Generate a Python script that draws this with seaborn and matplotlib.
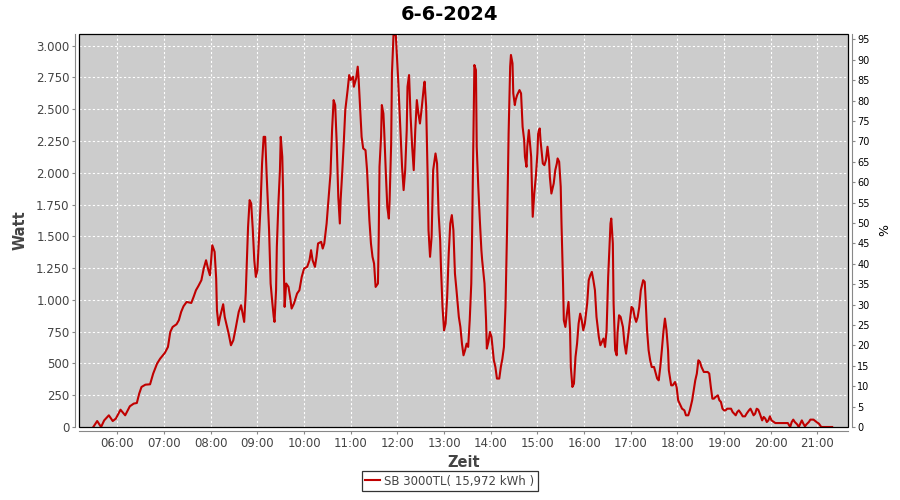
import pandas as pd
import matplotlib.pyplot as plt
import matplotlib.dates as mdates
import matplotlib.ticker as mticker
from matplotlib.patches import Rectangle
import seaborn as sns

zeit = [
    "05:29", "05:34", "05:39", "05:43", "05:49", "05:54", "05:58", "06:04", "06:10", "06:16",
    "06:21", "06:25", "06:28", "06:31", "06:36", "06:42", "06:46", "06:51", "06:55", "07:01",
    "07:05", "07:08", "07:11", "07:16", "07:19", "07:22", "07:25", "07:29", "07:35", "07:38",
    "07:41", "07:44", "07:48", "07:51", "07:54", "07:57", "07:59", "08:02", "08:05", "08:07",
    "08:08", "08:10", "08:12", "08:16", "08:18", "08:23", "08:26", "08:29", "08:32", "08:36",
    "08:39", "08:41", "08:43", "08:45", "08:48", "08:50", "08:52", "08:54", "08:56", "08:58",
    "09:00", "09:04", "09:06", "09:08", "09:10", "09:12", "09:15", "09:17", "09:19", "09:21",
    "09:22", "09:24", "09:25", "09:27", "09:29", "09:30", "09:32", "09:33", "09:34", "09:35",
    "09:37", "09:40", "09:42", "09:44", "09:47", "09:51", "09:54", "09:57", "10:00", "10:04",
    "10:07", "10:09", "10:11", "10:14", "10:16", "10:18", "10:22", "10:24", "10:26", "10:27",
    "10:29", "10:31", "10:34", "10:36", "10:38", "10:40", "10:42", "10:44", "10:46", "10:47",
    "10:49", "10:51", "10:53", "10:56", "10:58", "11:00", "11:03", "11:04", "11:07", "11:09",
    "11:10", "11:12", "11:14", "11:16", "11:19", "11:21", "11:23", "11:24", "11:26", "11:28",
    "11:30", "11:32", "11:35", "11:36", "11:37", "11:39", "11:40", "11:42", "11:43", "11:45",
    "11:47", "11:49", "11:50", "11:52", "11:53", "11:55", "11:58", "11:59", "12:01", "12:04",
    "12:06", "12:08", "12:10", "12:12", "12:13", "12:15", "12:17", "12:19", "12:21", "12:23",
    "12:25", "12:27", "12:29", "12:31", "12:34", "12:35", "12:37", "12:39", "12:40", "12:42",
    "12:44", "12:46", "12:49", "12:51", "12:53", "12:55", "12:56", "12:58", "13:00", "13:02",
    "13:04", "13:06", "13:08", "13:10", "13:12", "13:14", "13:16", "13:19", "13:21", "13:23",
    "13:25", "13:27", "13:29", "13:31", "13:33", "13:35", "13:36", "13:38", "13:39", "13:41",
    "13:42", "13:44", "13:46", "13:48", "13:49", "13:52", "13:54", "13:55", "13:57", "13:59",
    "14:01", "14:04", "14:06", "14:08", "14:11", "14:13", "14:15", "14:17", "14:19", "14:21",
    "14:23", "14:25", "14:26", "14:28", "14:29", "14:31", "14:32", "14:34", "14:37", "14:39",
    "14:41", "14:43", "14:44", "14:46", "14:47", "14:49", "14:52", "14:53", "14:54", "14:56",
    "14:58", "15:00", "15:01", "15:03", "15:04", "15:07", "15:09", "15:11", "15:13", "15:15",
    "15:16", "15:18", "15:21", "15:23", "15:25", "15:26", "15:28", "15:30", "15:31", "15:33",
    "15:34", "15:36", "15:38", "15:40", "15:42", "15:43", "15:45", "15:47", "15:49", "15:51",
    "15:53", "15:55", "15:57", "15:59", "16:01", "16:04", "16:06", "16:08", "16:10", "16:12",
    "16:14", "16:16", "16:19", "16:21", "16:23", "16:25", "16:27", "16:29", "16:31", "16:34",
    "16:35", "16:37", "16:38", "16:40", "16:42", "16:43", "16:45", "16:47", "16:50", "16:52",
    "16:54", "16:56", "16:58", "17:01", "17:03", "17:05", "17:07", "17:09", "17:11", "17:13",
    "17:16", "17:18", "17:19", "17:21", "17:23", "17:25", "17:27", "17:30", "17:34", "17:36",
    "17:38", "17:40", "17:42", "17:44", "17:46", "17:48", "17:49", "17:52", "17:54", "17:57",
    "17:59", "18:01", "18:04", "18:06", "18:09", "18:11", "18:14", "18:16", "18:19", "18:21",
    "18:23", "18:25", "18:27", "18:29", "18:31", "18:34", "18:36", "18:39", "18:41", "18:43",
    "18:45", "18:47", "18:49", "18:52", "18:54", "18:56", "18:58", "19:00", "19:02", "19:04",
    "19:07", "19:09", "19:11", "19:13", "19:15", "19:17", "19:19", "19:22", "19:24", "19:27",
    "19:29", "19:32", "19:34", "19:36", "19:38", "19:40", "19:42", "19:44", "19:46", "19:49",
    "19:51", "19:53", "19:55", "19:57", "19:59", "20:01", "20:04", "20:06", "20:14", "20:22",
    "20:25", "20:27", "20:29", "20:31", "20:34", "20:36", "20:38", "20:40", "20:42", "20:44",
    "20:46", "20:49", "20:51", "20:55", "20:59", "21:02", "21:05", "21:19",
]
watt = [
    0, 47, 0, 52, 92, 47, 66, 136, 92, 163,
    184, 189, 262, 315, 333, 336, 420, 499, 538, 583,
    630, 748, 787, 808, 840, 906, 950, 984, 976, 1024,
    1076, 1108, 1155, 1247, 1312, 1234, 1194, 1430, 1378, 1168,
    919, 801, 866, 966, 866, 735, 643, 682, 774, 906,
    958, 892, 827, 1050, 1575, 1785, 1759, 1562, 1312, 1181,
    1234, 1732, 2073, 2283, 2283, 1969, 1549, 1129, 990, 866,
    827, 1076, 1417, 1759, 2021, 2283, 2126, 1864, 1260, 945,
    1129, 1102, 1024, 932, 971, 1050, 1076, 1181, 1247, 1260,
    1312, 1391, 1312, 1260, 1339, 1444, 1457, 1404, 1444, 1496,
    1601, 1759, 1995, 2336, 2572, 2533, 2231, 1811, 1601, 1785,
    1995, 2231, 2493, 2651, 2769, 2730, 2756, 2677, 2743, 2835,
    2756, 2520, 2283, 2192, 2178, 2021, 1759, 1627, 1444, 1339,
    1286, 1102, 1129, 1496, 2047, 2283, 2533, 2467, 2336, 2021,
    1732, 1640, 1785, 2231, 2782, 3084, 3084, 2966, 2730, 2310,
    2047, 1864, 2021, 2336, 2677, 2769, 2441, 2205, 2021, 2336,
    2572, 2467, 2388, 2493, 2677, 2717, 2520, 1942, 1549, 1339,
    1496, 2021, 2152, 2073, 1680, 1470, 1260, 945, 761, 814,
    1024, 1365, 1601, 1667, 1549, 1207, 1076, 866, 787, 656,
    564, 604, 656, 630, 840, 1129, 1496, 2362, 2848, 2808,
    2205, 1890, 1627, 1391, 1312, 1129, 840, 617, 669, 748,
    709, 525, 472, 381, 381, 472, 538, 630, 945, 1549,
    2310, 2835, 2927, 2861, 2625, 2533, 2572, 2612, 2651, 2625,
    2362, 2257, 2126, 2047, 2205, 2336, 2126, 1890, 1654, 1837,
    1969, 2152, 2310, 2349, 2257, 2073, 2060, 2100, 2205, 2100,
    1969, 1837, 1916, 2021, 2073, 2113, 2087, 1890, 1601, 1129,
    840, 787, 892, 984, 761, 472, 315, 341, 551, 656,
    814, 892, 840, 761, 814, 971, 1155, 1194, 1220, 1155,
    1076, 866, 709, 643, 669, 696, 630, 761, 1181, 1601,
    1640, 1444, 971, 604, 564, 735, 879, 866, 787, 656,
    577, 682, 787, 945, 932, 866, 827, 866, 945, 1076,
    1155, 1142, 1024, 761, 604, 525, 472, 472, 381, 367,
    472, 604, 748, 853, 761, 604, 446, 328, 328, 354,
    315, 210, 171, 144, 131, 92, 92, 131, 210, 289,
    367, 420, 525, 512, 472, 433, 433, 433, 420, 315,
    223, 223, 236, 249, 210, 197, 144, 131, 131, 144,
    144, 144, 118, 105, 92, 118, 131, 105, 84, 84,
    105, 131, 144, 118, 92, 105, 144, 136, 105, 52,
    79, 66, 39, 52, 84, 52, 39, 31, 31, 31,
    0, 39, 58, 39, 21, 0, 26, 52, 26, 5,
    21, 39, 58, 58, 39, 26, 0, 0,
]

titel = "6-6-2024"
legende = "SB 3000TL( 15,972 kWh )"
y_ticks = list(range(0, 3001, 250))
pct_ticks = list(range(0, 96, 5))

df = pd.DataFrame({
    "Zeit": pd.to_datetime("2024-06-06 " + pd.Series(zeit)),
    "Watt": watt,
})

plt.rcParams["font.family"] = ["DejaVu Sans"]
txt = "#444444"

fig = plt.figure(figsize=(9, 5), dpi=100)
ax = fig.add_axes([0.0881, 0.146, 0.8538, 0.786])
ax.set_facecolor("#cccccc")

sns.lineplot(data=df, x="Zeit", y="Watt", ax=ax, color="#c00000", lw=1.5,
             estimator=None, sort=False, label=legende, legend=False, zorder=3)

ax.set_xlim(pd.Timestamp("2024-06-06 05:11"), pd.Timestamp("2024-06-06 21:39"))
ax.set_ylim(0, 3092)
ax.xaxis.set_major_locator(mdates.HourLocator())
ax.xaxis.set_major_formatter(mdates.DateFormatter("%H:%M"))
ax.set_yticks(y_ticks)
ax.yaxis.set_major_formatter(mticker.FuncFormatter(lambda v, p: f"{v:,.0f}".replace(",", ".")))
ax.grid(True, color="white", linestyle=(0, (2, 2)), lw=0.8)
ax.set_axisbelow(True)

for s in ["top", "right"]:
    ax.spines[s].set_visible(False)
for s in ["left", "bottom"]:
    ax.spines[s].set_position(("outward", 3))
    ax.spines[s].set_color("#888888")
ax.tick_params(axis="both", colors="#888888", labelcolor=txt, labelsize=8.5, length=2, pad=2)
ax.add_patch(Rectangle((0, 0), 1, 1, transform=ax.transAxes, fill=False,
                       ec="black", lw=0.9, zorder=5, clip_on=False))

ax.set_xlabel("Zeit", fontsize=10.5, fontweight="bold", color=txt, labelpad=4)
ax.set_ylabel("Watt", fontsize=10.5, fontweight="bold", color=txt, labelpad=6)

# rechte Achse in Prozent
ax2 = ax.twinx()
ax2.set_ylim(0, 96.3)
ax2.set_yticks(pct_ticks)
for s in ["top", "left", "bottom"]:
    ax2.spines[s].set_visible(False)
ax2.spines["right"].set_position(("outward", 3))
ax2.spines["right"].set_color("#888888")
ax2.tick_params(axis="y", colors="#888888", labelcolor="black", labelsize=7, length=2, pad=2)
ax2.set_ylabel("%", fontsize=9, color="black", labelpad=6)

fig.text(0.5, 1 - 14 / 500, titel, ha="center", va="center", fontsize=14, fontweight="bold")

line = ax.lines[0]
leg = fig.legend([line], [legende], loc="lower center", bbox_to_anchor=(0.5, 0.006),
                 frameon=True, fancybox=False, edgecolor="black", fontsize=8.5,
                 handlelength=1.2, borderpad=0.3, handletextpad=0.4)
leg.get_frame().set_linewidth(0.9)
for t in leg.get_texts():
    t.set_color(txt)

fig.savefig("out.png", dpi=100)
